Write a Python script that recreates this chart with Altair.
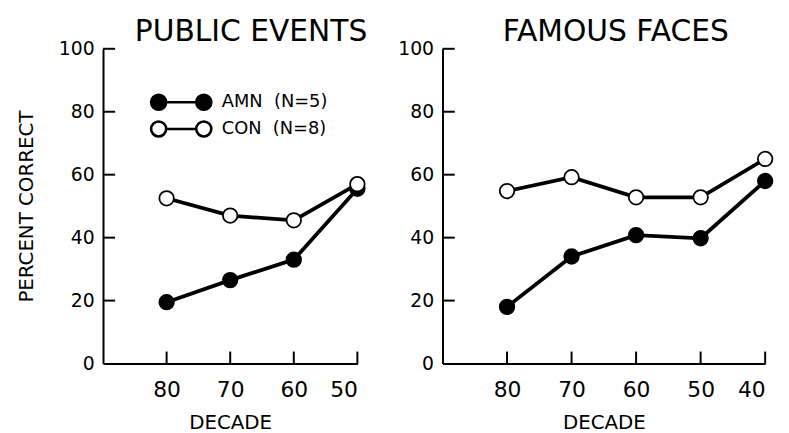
import altair as alt
import pandas as pd

FONT = "DejaVu Sans"

groups = ["AMN (N=5)", "CON (N=8)"]

# Public Events
pe_decades = [80, 70, 60, 50]
pe_amn = [19.5, 26.5, 33.0, 55.5]
pe_con = [52.5, 47.0, 45.5, 57.0]

# Famous Faces
ff_decades = [80, 70, 60, 50, 40]
ff_amn = [18.0, 34.0, 40.8, 39.8, 58.0]
ff_con = [54.8, 59.2, 52.8, 52.8, 65.0]

y_ticks = [0, 20, 40, 60, 80, 100]
y_inner_ticks = [20, 40, 60, 80, 100]

LEGEND_PATH = ("M-4,0A1,1,0,1,0,-2,0A1,1,0,1,0,-4,0Z"
               "M-2,0L2,0"
               "M2,0A1,1,0,1,0,4,0A1,1,0,1,0,2,0Z")


def panel(title, decades, amn, con, start, width, left, dx):
    df = pd.DataFrame({
        "decade": decades + decades,
        "pct": amn + con,
        "group": [groups[0]] * len(decades) + [groups[1]] * len(decades),
    })
    xt = pd.DataFrame({"decade": decades})
    yt = pd.DataFrame({"pct": y_inner_ticks})

    xs = alt.Scale(domain=[start, decades[-1]], nice=False, zero=False)
    ys = alt.Scale(domain=[0, 100], nice=False, zero=False)
    x_enc = alt.X("decade:Q", scale=xs,
                  axis=alt.Axis(values=decades, title="DECADE"))
    y_enc = alt.Y("pct:Q", scale=ys,
                  axis=alt.Axis(values=y_ticks,
                                title="PERCENT CORRECT" if left else None))

    lines = alt.Chart(df).mark_line(color="black", strokeWidth=3.8).encode(
        x=x_enc, y=y_enc, detail="group:N")

    if left:
        leg = alt.Legend(orient="none", legendX=70, legendY=45, title=None,
                         symbolType=LEGEND_PATH, symbolSize=231,
                         symbolStrokeColor="black", symbolStrokeWidth=2.6,
                         labelFont=FONT, labelFontSize=18, labelColor="black",
                         labelOffset=32, rowPadding=1, padding=0,
                         labelExpr="replace(datum.label, ' ', '\u00a0\u00a0')")
    else:
        leg = None
    fill_enc = alt.Fill("group:N",
                        scale=alt.Scale(domain=groups, range=["black", "white"]),
                        legend=leg)
    pts = alt.Chart(df).mark_point(filled=True, shape="circle", stroke="black",
                                   strokeWidth=1.8, opacity=1, size=215).encode(
        x=x_enc, y=y_enc, fill=fill_enc)

    xticks = alt.Chart(xt).mark_rule(color="black", strokeWidth=2).encode(
        x=x_enc, y=alt.YDatum(0, scale=ys), y2=alt.Y2Datum(3.8))
    yticks = alt.Chart(yt).mark_rule(color="black", strokeWidth=2).encode(
        y=y_enc, x=alt.XDatum(start, scale=xs), x2=alt.X2Datum(start - 1.9))

    return alt.layer(lines, xticks, yticks, pts).properties(
        width=width, height=318,
        title=alt.TitleParams(title, font=FONT, fontSize=30, fontWeight="normal",
                              color="black", dx=dx, offset=-7),
    )


left = panel("PUBLIC EVENTS", pe_decades, pe_amn, pe_con, 90, 257, True, 21)
right = panel("FAMOUS FACES", ff_decades, ff_amn, ff_con, 90, 326, False, 12)

chart = alt.hconcat(left, right, spacing=29).resolve_scale(
    fill="independent"
).properties(
    padding={"left": 8, "top": 7, "right": 5, "bottom": 0}
).configure_view(stroke=None).configure_axis(
    domain=True, domainColor="black", domainWidth=2, ticks=False, grid=False,
    labelFont=FONT, labelColor="black", titleFont=FONT, titleColor="black",
    titleFontWeight="normal",
).configure_axisX(
    labelFontSize=22, labelPadding=16, titleFontSize=20, titlePadding=13
).configure_axisY(
    labelFontSize=19, labelPadding=9, titleFontSize=20, titlePadding=22
)

chart.save("out.html", embed_options={"renderer": "svg", "actions": False})
